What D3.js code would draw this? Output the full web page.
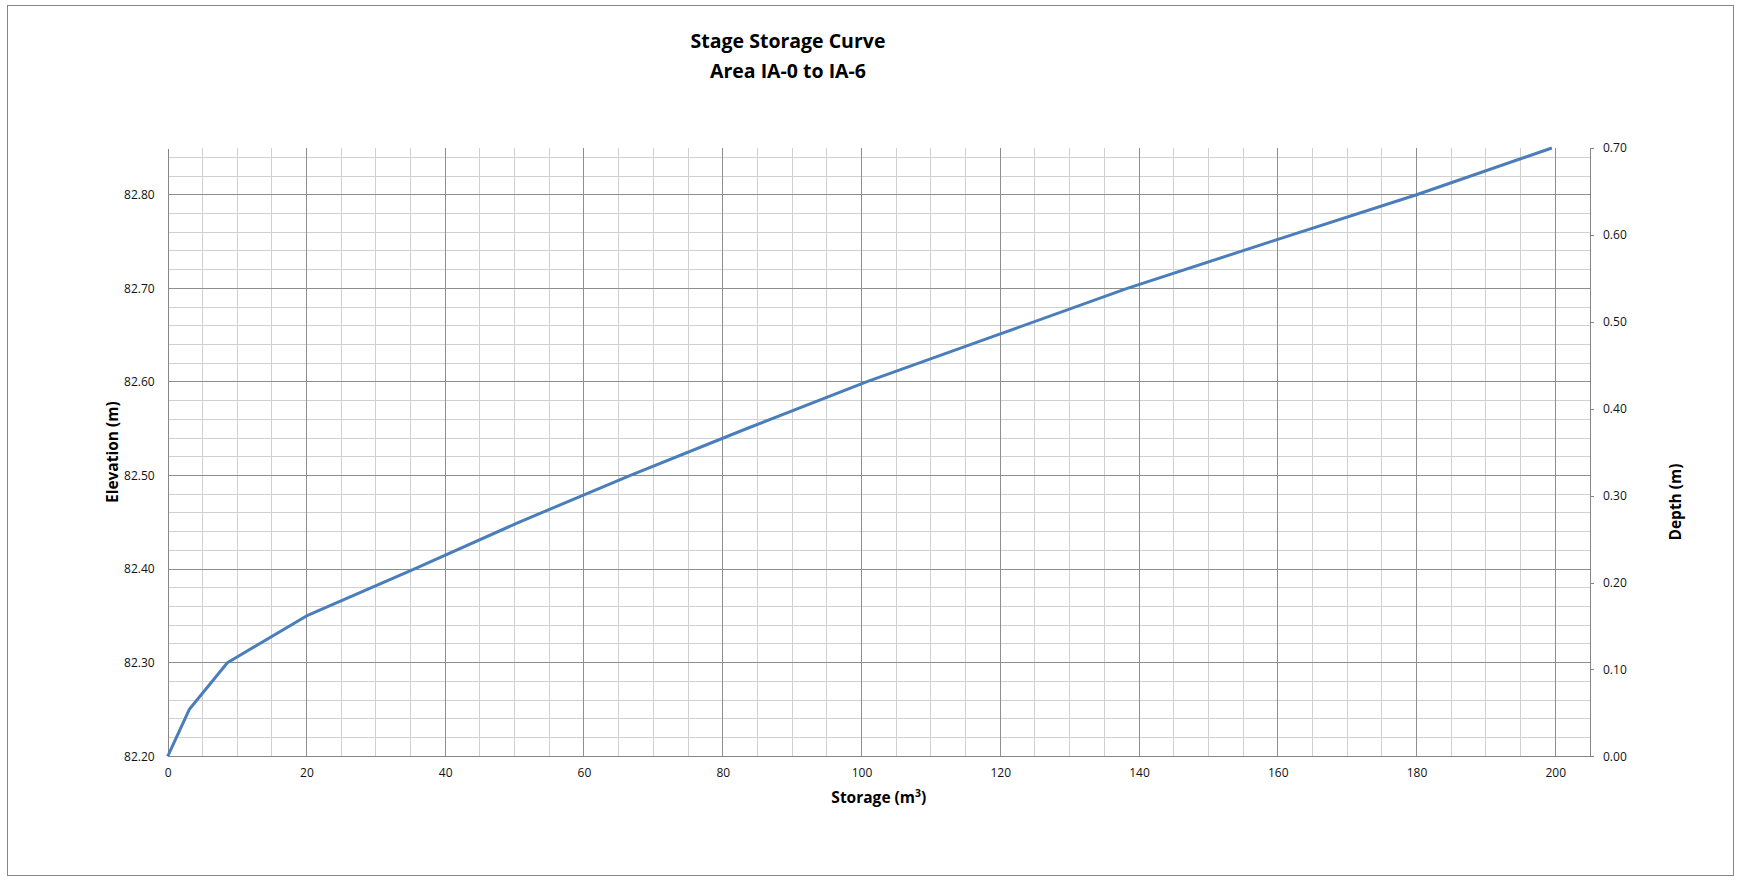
<!DOCTYPE html>
<html>
<head>
<meta charset="utf-8">
<script src="https://cdn.jsdelivr.net/npm/d3@7"></script>
<style>
  html, body { margin: 0; padding: 0; background: #fff; }
  text { font-family: "Open Sans", sans-serif; }
</style>
</head>
<body>
<svg id="chart"></svg>
<script>
// values
const storage   = [0, 3.1, 8.6, 20.0, 35.5, 50.6, 66.6, 83.4, 100.7, 119.5, 138.3, 159.0, 180.0, 199.5];
const elevation = [82.20, 82.25, 82.30, 82.35, 82.40, 82.45, 82.50, 82.55, 82.60, 82.65, 82.70, 82.75, 82.80, 82.85];

const xTicks     = [0, 20, 40, 60, 80, 100, 120, 140, 160, 180, 200];
const elevTicks  = [82.20, 82.30, 82.40, 82.50, 82.60, 82.70, 82.80];
const depthTicks = [0.00, 0.10, 0.20, 0.30, 0.40, 0.50, 0.60, 0.70];

const width = 1737, height = 880;
const plotL = 167.7, plotR = 1590, plotT = 148, plotB = 756.3;

const svg = d3.select("#chart").attr("width", width).attr("height", height);

svg.append("rect")
    .attr("x", 7.5).attr("y", 5.5)
    .attr("width", 1726).attr("height", 870)
    .attr("fill", "#fff").attr("stroke", "#868686").attr("stroke-width", 1);

const x = d3.scaleLinear().domain([0, 205]).range([plotL, plotR]);
const y = d3.scaleLinear().domain([82.20, 82.85]).range([plotB, plotT]);
const yDepth = d3.scaleLinear().domain([0, 0.70]).range([plotB, plotT]);

// minor grid
const grid = svg.append("g").attr("shape-rendering", "crispEdges");
grid.append("g").selectAll("line")
    .data(d3.range(5, 205, 5).filter(v => v % 20 !== 0))
    .join("line")
    .attr("x1", d => x(d)).attr("x2", d => x(d))
    .attr("y1", plotT).attr("y2", plotB)
    .attr("stroke", "#d0d0d0");
grid.append("g").selectAll("line")
    .data(d3.range(1, 33).filter(i => i % 5 !== 0).map(i => 82.20 + i * 0.02))
    .join("line")
    .attr("x1", plotL).attr("x2", plotR)
    .attr("y1", d => y(d)).attr("y2", d => y(d))
    .attr("stroke", "#d0d0d0");

// major grid
grid.append("g").selectAll("line")
    .data(xTicks.slice(1))
    .join("line")
    .attr("x1", d => x(d)).attr("x2", d => x(d))
    .attr("y1", plotT).attr("y2", plotB)
    .attr("stroke", "#8e8e8e");
grid.append("g").selectAll("line")
    .data(elevTicks.slice(1))
    .join("line")
    .attr("x1", plotL).attr("x2", plotR)
    .attr("y1", d => y(d)).attr("y2", d => y(d))
    .attr("stroke", "#8e8e8e");

// axes
const fmt = d3.format(".2f");
const xAxis = svg.append("g")
    .attr("transform", `translate(0,${plotB})`)
    .call(d3.axisBottom(x).tickValues(xTicks).tickSize(0).tickPadding(12).tickFormat(d3.format("d")));
const yAxis = svg.append("g")
    .attr("transform", `translate(${plotL},0)`)
    .call(d3.axisLeft(y).tickValues(elevTicks).tickSize(0).tickPadding(13).tickFormat(fmt));
const rAxis = svg.append("g")
    .attr("transform", `translate(${plotR},0)`)
    .call(d3.axisRight(yDepth).tickValues(depthTicks).tickSize(4).tickPadding(9).tickFormat(fmt));

[xAxis, yAxis, rAxis].forEach(a => {
    a.select(".domain").attr("stroke", "#868686").attr("shape-rendering", "crispEdges");
    a.selectAll(".tick line").attr("stroke", "#868686").attr("shape-rendering", "crispEdges");
    a.selectAll("text").attr("font-family", "Open Sans, sans-serif").attr("font-size", 12).attr("fill", "#111");
});
rAxis.select(".domain").attr("d", `M4,${plotT}H0V${plotB}H4`);

// curve
svg.append("path")
    .datum(d3.range(storage.length))
    .attr("fill", "none")
    .attr("stroke", "#4a7ebb")
    .attr("stroke-width", 3)
    .attr("stroke-linejoin", "round")
    .attr("d", d3.line().x(i => x(storage[i])).y(i => y(elevation[i])));

// titles
const title = svg.append("text")
    .attr("x", 788).attr("text-anchor", "middle")
    .attr("font-size", 19.5).attr("font-weight", "bold").attr("fill", "#000");
title.append("tspan").attr("x", 788).attr("y", 48).text("Stage Storage Curve");
title.append("tspan").attr("x", 788).attr("y", 78).text("Area IA-0 to IA-6");

const xt = svg.append("text")
    .attr("x", (plotL + plotR) / 2).attr("y", 803)
    .attr("text-anchor", "middle")
    .attr("font-size", 15.5).attr("font-weight", "bold");
xt.append("tspan").text("Storage (m");
xt.append("tspan").text("3").attr("font-size", 10.5).attr("dy", -6);
xt.append("tspan").text(")").attr("dy", 6);

svg.append("text")
    .attr("transform", `translate(118,${(plotT + plotB) / 2}) rotate(-90)`)
    .attr("text-anchor", "middle")
    .attr("font-size", 15.5).attr("font-weight", "bold")
    .text("Elevation (m)");

svg.append("text")
    .attr("transform", `translate(1681,502) rotate(-90)`)
    .attr("text-anchor", "middle")
    .attr("font-size", 15.5).attr("font-weight", "bold")
    .text("Depth (m)");
</script>
</body>
</html>
